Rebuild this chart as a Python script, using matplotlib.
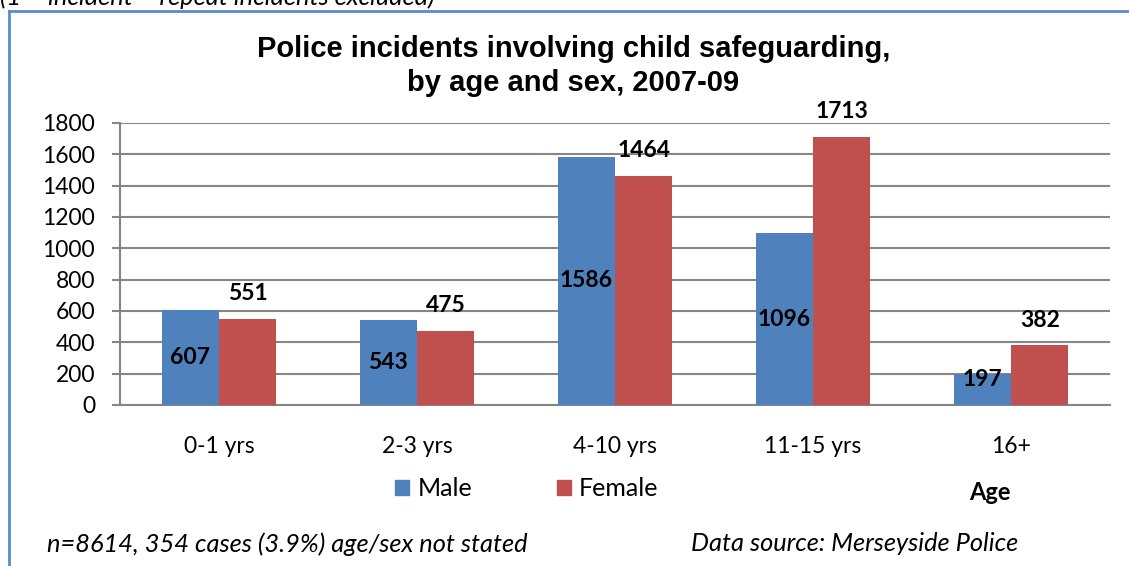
import numpy as np
import matplotlib.pyplot as plt
from matplotlib.lines import Line2D
from matplotlib.patches import Patch

# incidents by age band and sex
age_bands = ['0-1 yrs', '2-3 yrs', '4-10 yrs', '11-15 yrs', '16+']
male = [607, 543, 1586, 1096, 197]
female = [551, 475, 1464, 1713, 382]
y_ticks = [0, 200, 400, 600, 800, 1000, 1200, 1400, 1600, 1800]

BLUE = '#4F81BD'
RED = '#C0504D'
GRID = '#868686'
BODY_FONT = ['Lato', 'DejaVu Sans']
TITLE_FONT = ['Liberation Sans', 'DejaVu Sans']

fig = plt.figure(figsize=(11.29, 5.66), dpi=100)
ax = fig.add_axes([0.1063, 0.2845, 0.8769, 0.4982])

x = np.arange(len(age_bands))
w = 0.29
bars_m = ax.bar(x - w / 2, male, w, color=BLUE, zorder=3)
bars_f = ax.bar(x + w / 2, female, w, color=RED, zorder=3)

# male values sit inside the bars, female values above
for b, v in zip(bars_m, male):
    ax.text(b.get_x() + b.get_width() / 2, max(v / 2, 160), str(v),
            ha='center', va='center', fontsize=16.5, fontweight='bold',
            family=BODY_FONT, zorder=4)
for b, v in zip(bars_f, female):
    ax.text(b.get_x() + b.get_width() / 2, v + 158, str(v),
            ha='center', va='center', fontsize=16.5, fontweight='bold',
            family=BODY_FONT, zorder=4)

ax.set_xlim(-0.5, len(age_bands) - 0.5)
ax.set_ylim(0, 1800)
ax.set_yticks(y_ticks)
ax.set_yticklabels([str(t) for t in y_ticks], family=BODY_FONT, fontsize=16.5)
ax.set_xticks(x)
ax.set_xticklabels(age_bands, family=BODY_FONT, fontsize=16.5)
ax.tick_params(axis='x', length=0, pad=22)
ax.tick_params(axis='y', length=6, width=1.5, color=GRID, pad=12)
ax.yaxis.grid(True, color=GRID, lw=1.5, zorder=0)
for side in ['top', 'right']:
    ax.spines[side].set_visible(False)
for side in ['left', 'bottom']:
    ax.spines[side].set_color(GRID)
    ax.spines[side].set_linewidth(1.5)

fig.text(0.508, 0.8834, 'Police incidents involving child safeguarding,\nby age and sex, 2007-09',
         ha='center', va='center', fontsize=21, fontweight='bold',
         family=TITLE_FONT, linespacing=1.25)

handles = [Patch(color=BLUE, label='Male'), Patch(color=RED, label='Female')]
fig.legend(handles=handles, loc='center', bbox_to_anchor=(0.4668, 0.137), ncol=2,
           frameon=False, prop={'family': BODY_FONT, 'size': 18},
           handlelength=0.56, handleheight=0.56, handletextpad=0.32, columnspacing=3.4)

fig.text(0.877, 0.13, 'Age', ha='center', va='center', fontsize=17,
         fontweight='bold', family=BODY_FONT)
fig.text(0.042, 0.039, 'n=8614, 354 cases (3.9%) age/sex not stated', ha='left',
         va='center', fontsize=18.3, style='italic', family=BODY_FONT)
fig.text(0.612, 0.039, 'Data source: Merseyside Police', ha='left',
         va='center', fontsize=18.3, style='italic', family=BODY_FONT)

# note line cut off at the top edge
fig.text(0.0, 0.9912, '(1 = incident \u2013 repeat incidents excluded)', ha='left',
         va='baseline', fontsize=18.3, style='italic', family=BODY_FONT)

# frame of the chart box
fig.add_artist(Line2D([0.008, 1.0], [0.980, 0.980], color='#5B8BCF', lw=2,
                      transform=fig.transFigure))
fig.add_artist(Line2D([0.008, 0.008], [0.0, 0.980], color='#5B8BCF', lw=2,
                      transform=fig.transFigure))

fig.savefig('out.png', dpi=100)
